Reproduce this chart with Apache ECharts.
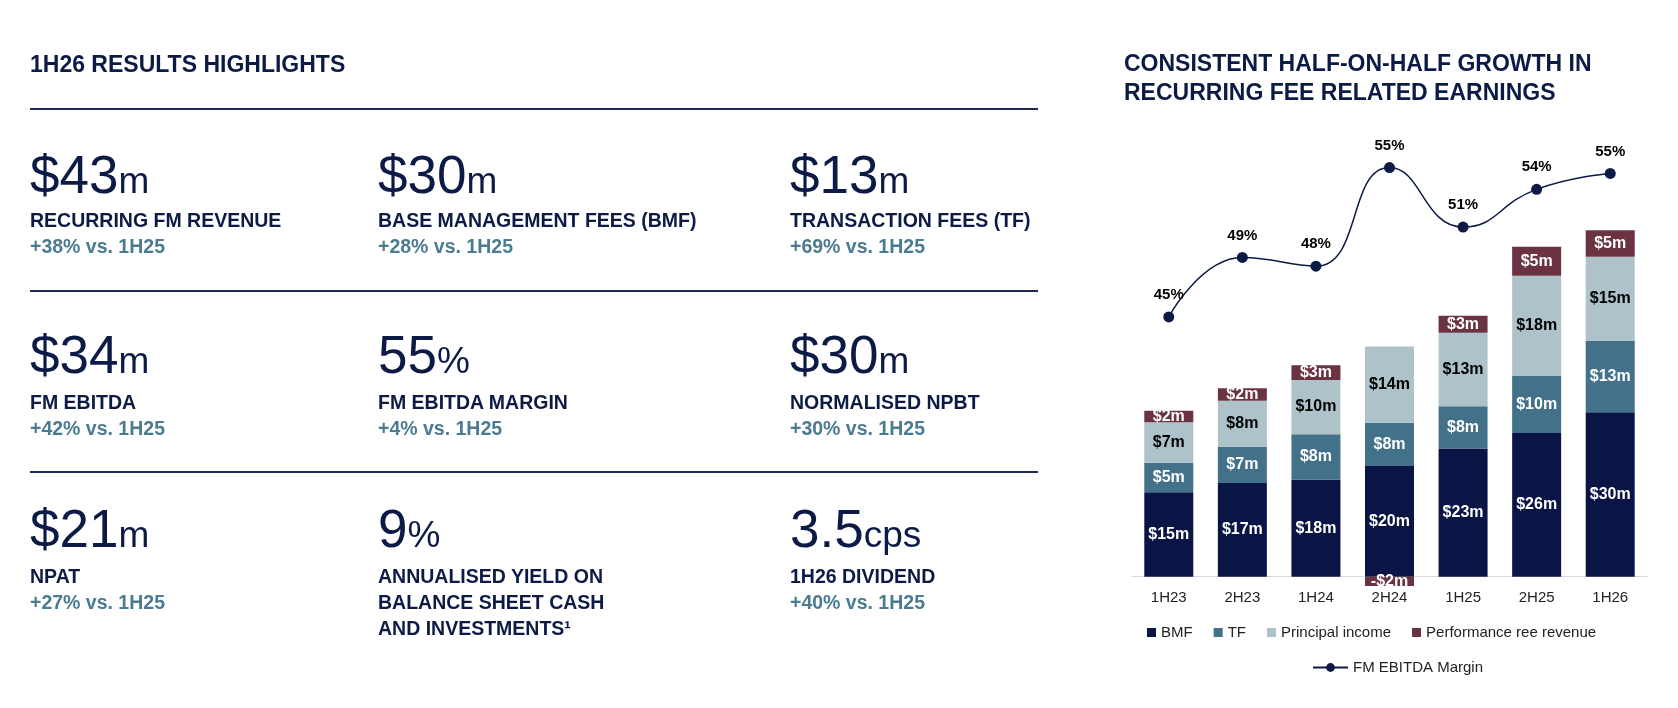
<!DOCTYPE html>
<html>
<head>
<meta charset="utf-8">
<title>1H26 Results Highlights</title>
<script src="https://cdn.jsdelivr.net/npm/echarts@6.0.0/dist/echarts.min.js"></script>
<style>
    html, body { margin: 0; padding: 0; background: #ffffff; }
    #page { position: relative; width: 1678px; height: 708px; overflow: hidden;
            font-family: "Liberation Sans", Arial, sans-serif; color: #0c1a46; }
    #chart { position: absolute; left: 0; top: 0; width: 1678px; height: 708px; }
    #panel { position: absolute; left: 0; top: 0; width: 1060px; height: 708px; z-index: 2; }
    .t { position: absolute; white-space: nowrap; }
    .head { font-size: 23px; line-height: 23px; font-weight: bold; }
    .big { font-size: 53px; line-height: 53px; }
    .big span { font-size: 37px; }
    .name { font-size: 19.5px; line-height: 26px; font-weight: bold; }
    .chg { font-size: 19.5px; line-height: 26px; font-weight: bold; color: #4b7b91; }
    .rule { position: absolute; left: 30px; width: 1008px; height: 1.5px; background: #1e2a55; }
</style>
</head>
<body>
<div id="page">
    <div id="chart"></div>
    <div id="panel"></div>
</div>
<script>
// chart data ($m and %)
var periods = ['1H23', '2H23', '1H24', '2H24', '1H25', '2H25', '1H26'];
var bmf = [15.4, 17.1, 17.7, 20.2, 23.4, 26.2, 30.0];
var tf = [5.4, 6.6, 8.3, 7.9, 7.7, 10.4, 13.0];
var principal = [7.4, 8.4, 9.9, 13.9, 13.4, 18.3, 15.4];
var perfFee = [2.1, 2.3, 2.7, -1.7, 3.1, 5.3, 4.8];
var margin = [44.8, 48.9, 48.3, 55.1, 51.0, 53.6, 54.7];

// highlight tiles (row by row)
var kpiValues = ['$43', '$30', '$13', '$34', '55', '$30', '$21', '9', '3.5'];
var kpiUnits = ['m', 'm', 'm', 'm', '%', 'm', 'm', '%', 'cps'];
var kpiNames = ['RECURRING FM REVENUE', 'BASE MANAGEMENT FEES (BMF)', 'TRANSACTION FEES (TF)',
    'FM EBITDA', 'FM EBITDA MARGIN', 'NORMALISED NPBT',
    'NPAT', 'ANNUALISED YIELD ON<br>BALANCE SHEET CASH<br>AND INVESTMENTS\u00b9', '1H26 DIVIDEND'];
var kpiChanges = ['+38% vs. 1H25', '+28% vs. 1H25', '+69% vs. 1H25',
    '+42% vs. 1H25', '+4% vs. 1H25', '+30% vs. 1H25',
    '+27% vs. 1H25', '', '+40% vs. 1H25'];

var colX = [30, 378, 790];
var ruleY = [108, 290, 471];
var bigBase = [193, 373, 547];
var nameBase = [227, 409, 583];
var chgBase = [253, 435, 609];

function addText(cls, html, x, top) {
    var d = document.createElement('div');
    d.className = 't ' + cls;
    d.style.left = x + 'px';
    d.style.top = top + 'px';
    d.innerHTML = html;
    document.getElementById('panel').appendChild(d);
}

function buildPanel() {
    addText('head', '1H26 RESULTS HIGHLIGHTS', 30, 72 - 19.5);
    for (var r = 0; r < ruleY.length; r++) {
        var line = document.createElement('div');
        line.className = 'rule';
        line.style.top = ruleY[r] + 'px';
        document.getElementById('panel').appendChild(line);
    }
    for (var i = 0; i < kpiValues.length; i++) {
        var row = Math.floor(i / 3);
        var x = colX[i % 3];
        addText('big', kpiValues[i] + '<span>' + kpiUnits[i] + '</span>', x, bigBase[row] - 44.9);
        addText('name', kpiNames[i], x, nameBase[row] - 19.8);
        if (kpiChanges[i]) {
            addText('chg', kpiChanges[i], x, chgBase[row] - 19.8);
        }
    }
}

function money(p) {
    var v = Math.round(p.value);
    return v < 0 ? '-$' + (-v) + 'm' : '$' + v + 'm';
}

function barSeries(name, data, color, labelColor) {
    return {
        name: name,
        type: 'bar',
        stack: 'fre',
        barWidth: 49,
        data: data,
        itemStyle: { color: color },
        label: {
            show: true,
            position: 'inside',
            formatter: money,
            color: labelColor,
            fontSize: 16,
            fontWeight: 'bold',
            fontFamily: '"Liberation Sans", Arial, sans-serif'
        }
    };
}

var dom = document.getElementById('chart');
var myChart = echarts.init(dom, null, { renderer: 'canvas' });

var option = {
    animation: false,
    backgroundColor: 'transparent',
    textStyle: { fontFamily: '"Liberation Sans", Arial, sans-serif' },
    title: {
        text: 'CONSISTENT HALF-ON-HALF GROWTH IN\nRECURRING FEE RELATED EARNINGS',
        left: 1124,
        top: 50,
        padding: 0,
        textStyle: {
            color: '#0c1a46',
            fontSize: 23,
            fontWeight: 'bold',
            lineHeight: 29,
            fontFamily: '"Liberation Sans", Arial, sans-serif'
        }
    },
    legend: [
        {
            data: ['BMF', 'TF', 'Principal income', 'Performance ree revenue'],
            left: 1147,
            top: 625,
            padding: 0,
            icon: 'rect',
            itemWidth: 9,
            itemHeight: 9,
            itemGap: 21,
            textStyle: { color: '#222222', fontSize: 15 }
        },
        {
            data: ['FM EBITDA Margin'],
            left: 1312,
            top: 660,
            padding: 0,
            itemWidth: 35,
            itemHeight: 11,
            textStyle: { color: '#222222', fontSize: 15 }
        }
    ],
    grid: {
        left: 1132,
        right: 31,
        top: 105.4,
        bottom: 109.4,
        outerBoundsMode: 'none'
    },
    xAxis: {
        type: 'category',
        data: periods,
        axisLine: { lineStyle: { color: '#d9d9d9', width: 1 } },
        axisTick: { show: false },
        axisLabel: { color: '#222222', fontSize: 15, margin: -8 }
    },
    yAxis: [
        { type: 'value', min: -4, max: 86, show: false },
        { type: 'value', min: 25.37, max: 59.39, show: false }
    ],
    series: [
        barSeries('BMF', bmf, '#0a1545', '#ffffff'),
        barSeries('TF', tf, '#43718a', '#ffffff'),
        barSeries('Principal income', principal, '#adc3c9', '#000000'),
        barSeries('Performance ree revenue', perfFee, '#6b3341', '#ffffff'),
        {
            name: 'FM EBITDA Margin',
            type: 'line',
            yAxisIndex: 1,
            data: margin,
            smooth: 0.5,
            symbol: 'circle',
            symbolSize: 11,
            z: 5,
            lineStyle: { color: '#0c1a46', width: 1.5 },
            itemStyle: { color: '#0c1a46' },
            label: {
                show: true,
                position: 'top',
                distance: 9,
                formatter: function (p) { return Math.round(p.value) + '%'; },
                color: '#000000',
                fontSize: 15,
                fontWeight: 'bold'
            }
        }
    ]
};

buildPanel();
myChart.setOption(option);
window.addEventListener('resize', myChart.resize);
</script>
</body>
</html>
